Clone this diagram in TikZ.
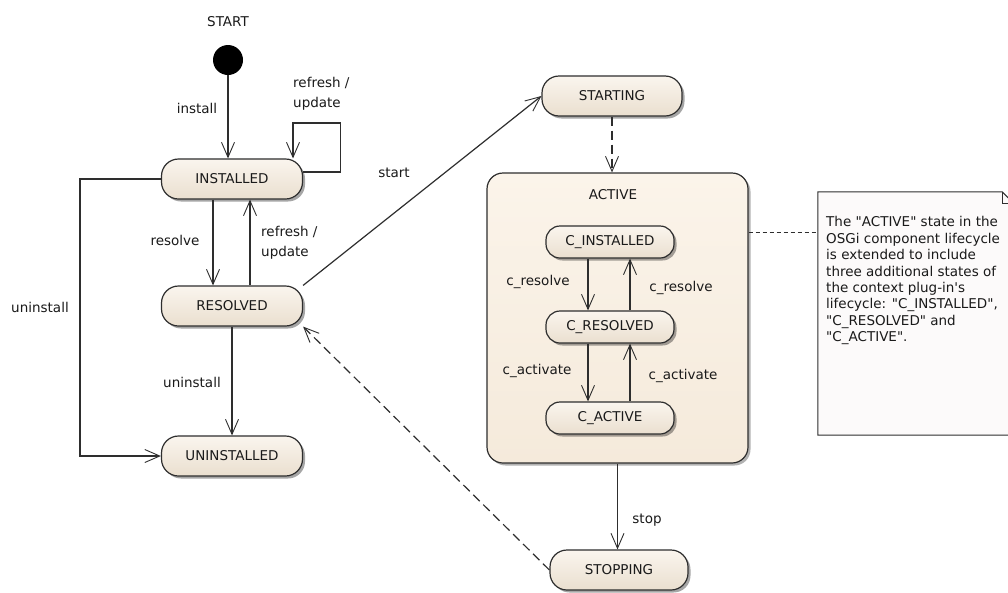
\documentclass[tikz,border=0pt]{standalone}
\usepackage{fontspec}
\setmainfont{DejaVu Sans}[Ligatures=TeXOff]
\usetikzlibrary{arrows.meta,shadows}
\definecolor{ink}{HTML}{2E2E2E}
\definecolor{txt}{HTML}{1A1A1A}
\definecolor{stTop}{HTML}{FAF5EE}
\definecolor{stBot}{HTML}{EADFCF}
\definecolor{cmpTop}{HTML}{FBF4EA}
\definecolor{cmpBot}{HTML}{F5EADB}
\definecolor{notefill}{HTML}{FCFAFA}
\begin{document}
\begin{tikzpicture}[x=1pt,y=-1pt,
  font=\fontsize{13.5}{20}\selectfont,
  state/.style={draw=ink, line width=1.2pt, rounded corners=17pt,
    minimum width=141pt, minimum height=40pt, inner sep=0pt,
    top color=stTop, bottom color=stBot, text=txt,
    drop shadow={shadow xshift=2.5pt, shadow yshift=-2.5pt, opacity=0.35, fill=black}},
  cstate/.style={state, rounded corners=14pt, minimum width=128pt, minimum height=32pt},
  comp/.style={draw=ink, line width=1.2pt, rounded corners=16pt,
    top color=cmpTop, bottom color=cmpBot,
    drop shadow={shadow xshift=2.5pt, shadow yshift=-2.5pt, opacity=0.3, fill=black}},
  lbl/.style={text=txt, inner sep=0pt, align=left},
  arr/.style={draw=ink, line width=1.2pt,
    -{Straight Barb[length=15pt,width=13pt,line width=0.9pt]}},
  dsh/.style={arr, dash pattern=on 9pt off 5pt},
  notelink/.style={draw=ink, line width=1pt, dash pattern=on 4pt off 3pt},
]
\fill[white] (0,0) rectangle (1008,592);
\useasboundingbox (0,0) rectangle (1008,592);
\clip (0,0) rectangle (1008,592);

% initial pseudo-state
\node[lbl] (startlbl) at (228,22) {START};
\node[circle, fill=black, minimum size=30pt, inner sep=0pt] (init) at (228,60) {};

% bundle lifecycle states
\node[state] (inst) at (232,179) {INSTALLED};
\node[state] (res) at (232,306) {RESOLVED};
\node[state] (uninst) at (232,456) {UNINSTALLED};
\node[state, minimum width=140pt] (sting) at (612,96) {STARTING};
\node[state, minimum width=138pt] (stopg) at (619,570) {STOPPING};

% composite ACTIVE state with the context plug-in states
\node[comp, minimum width=261pt, minimum height=290pt] (act) at (617.5,318) {};
\node[lbl] (actlbl) at (613,195) {ACTIVE};
\node[cstate] (cinst) at (610,242) {C\_INSTALLED};
\node[cstate] (cres) at (610,327) {C\_RESOLVED};
\node[cstate] (cact) at (610,418) {C\_ACTIVE};

% explanatory note
\node[minimum width=196pt, minimum height=243pt, inner sep=0pt] (note) at (916,313.5) {};
\draw[draw=ink, line width=1pt, fill=notefill]
  (note.north west) -- ([xshift=-12pt]note.north east)
  -- ([yshift=-12pt]note.north east) -- (note.south east)
  -- (note.south west) -- cycle;
\draw[draw=ink, line width=1pt]
  ([xshift=-12pt]note.north east) -- ([xshift=-12pt,yshift=-12pt]note.north east)
  -- ([yshift=-12pt]note.north east);
\node[lbl, anchor=north west, font=\fontsize{13.5}{16.4}\selectfont] (notetxt) at (826,216.5)
  {The "ACTIVE" state in the\\
   OSGi component lifecycle\\
   is extended to include\\
   three additional states of\\
   the context plug-in's\\
   lifecycle: "C\_INSTALLED",\\
   "C\_RESOLVED" and\\
   "C\_ACTIVE".};
\coordinate (lnk) at ([yshift=86pt]act.east);
\draw[notelink] (lnk) -- (lnk -| note.west);

% transitions
\draw[arr] (init) -- (init |- inst.north);
\draw[arr] ([xshift=-19pt]inst.south) -- ([xshift=-19pt]res.north);
\draw[arr] ([xshift=18pt]res.north) -- ([xshift=18pt]inst.south);
\draw[arr] ([yshift=7pt]inst.east) -| ++(37,-49) -| ([xshift=61pt]inst.north);
\draw[arr] (inst.west) -- ++(-81,0) |- (uninst.west);
\draw[arr] (res) -- (uninst);
\draw[arr] (res.north east) -- (sting.west);
\draw[dsh] (sting) -- (sting |- act.north);
\draw[arr] (act.south) -- (act.south |- stopg.north);
\draw[dsh] (stopg.west) -- (res.south east);

\draw[arr] ([xshift=-22pt]cinst.south) -- ([xshift=-22pt]cres.north);
\draw[arr] ([xshift=20pt]cres.north) -- ([xshift=20pt]cinst.south);
\draw[arr] ([xshift=-22pt]cres.south) -- ([xshift=-22pt]cact.north);
\draw[arr] ([xshift=20pt]cact.north) -- ([xshift=20pt]cres.south);

% transition labels
\node[lbl] (linstall) at (197,108) {install};
\node[lbl, anchor=west] (lrefresh) at (293,94) {refresh /\\update};
\node[lbl] (lresolve) at (175,240) {resolve};
\node[lbl, anchor=west] (lrefresh2) at (261,243) {refresh /\\update};
\node[lbl] (luninst1) at (40,307) {uninstall};
\node[lbl] (luninst2) at (192,382) {uninstall};
\node[lbl] (lstart) at (394,173) {start};
\node[lbl] (lstop) at (647,520) {stop};
\node[lbl] (lcres1) at (538,282) {c\_resolve};
\node[lbl] (lcres2) at (681,288) {c\_resolve};
\node[lbl] (lcact1) at (537,371) {c\_activate};
\node[lbl] (lcact2) at (683,376) {c\_activate};
\end{tikzpicture}
\end{document}
